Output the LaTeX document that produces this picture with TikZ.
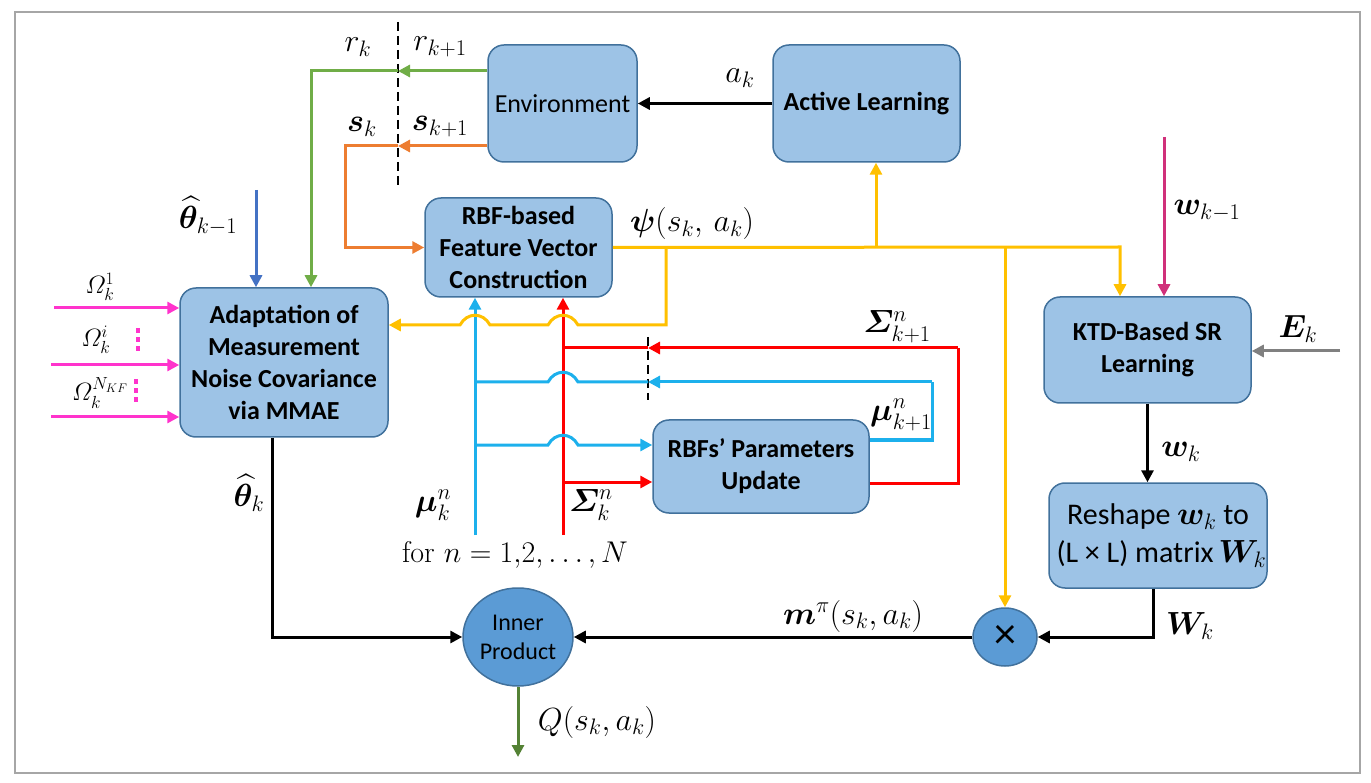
\documentclass[tikz,border=0pt]{standalone}
\usepackage{fix-cm}
\usepackage{amsmath,amssymb,bm}
\usepackage{fontspec}
\newfontfamily\carl{Carlito}
\usetikzlibrary{arrows.meta,shapes.geometric}
\definecolor{boxfill}{HTML}{9DC3E6}
\definecolor{boxline}{HTML}{41719C}
\definecolor{circfill}{HTML}{5B9BD5}
\definecolor{cgreen}{HTML}{70AD47}
\definecolor{corange}{HTML}{ED7D31}
\definecolor{cyellow}{HTML}{FFC000}
\definecolor{cblue}{HTML}{4472C4}
\definecolor{ccyan}{HTML}{1CB0EC}
\definecolor{cred}{HTML}{FF0000}
\definecolor{cpink}{HTML}{FF33CC}
\definecolor{cwine}{HTML}{D0307A}
\definecolor{cgray}{HTML}{808080}
\definecolor{cqgreen}{HTML}{548235}
\definecolor{cframe}{HTML}{A6A6A6}
\tikzset{
  box/.style={draw=boxline, fill=boxfill, line width=1.5pt, rounded corners=16pt, align=center, inner sep=0pt},
  bftext/.style={font=\carl\bfseries\fontsize{26}{32}\selectfont},
  nftext/.style={font=\carl\fontsize{26}{32}\selectfont},
  circ/.style={ellipse, draw=boxline, fill=circfill, line width=1.5pt, align=center, inner sep=0pt},
  ln/.style={line width=3pt},
  arr/.style={line width=3pt, -{Triangle[length=12pt,width=12pt]}},
  lbl/.style={font=\fontsize{32}{36}\selectfont, inner sep=0pt},
  slbl/.style={font=\fontsize{25}{28}\selectfont, inner sep=0pt},
  dsh/.style={line width=2.2pt, dash pattern=on 9pt off 5pt},
}
\begin{document}
\begin{tikzpicture}[x=1pt,y=-1pt]
\path[use as bounding box] (0,0) rectangle (1371,783);
\draw[cframe, line width=2pt] (15,12) rectangle (1360,773);

% boxes
\node[box,nftext,minimum width=149pt,minimum height=117pt] (env) at (562.5,103.5) {Environment};
\node[box,bftext,minimum width=187pt,minimum height=117pt] (al) at (866.5,103.5) {Active Learning};
\node[box,bftext,minimum width=187pt,minimum height=99pt] (rbf) at (518.5,247.5) {RBF-based\\Feature Vector\\Construction};
\node[box,bftext,minimum width=208pt,minimum height=149pt] (adapt) at (284,362.5) {Adaptation of\\Measurement\\Noise Covariance\\via MMAE};
\node[box,bftext,minimum width=207pt,minimum height=106pt] (ktd) at (1147.5,350) {KTD-Based SR\\Learning};
\node[box,font=\carl\fontsize{30}{38}\selectfont,minimum width=218pt,minimum height=105pt] (resh) at (1158,535.5) {Reshape {\fontsize{32}{36}\selectfont$\boldsymbol{w}_k$} to\\\ (L × L) matrix\,{\fontsize{32}{36}\selectfont$\boldsymbol{W}_k$}};
\node[box,bftext,minimum width=216pt,minimum height=93pt] (upd) at (761,466.5) {RBFs’ Parameters\\Update};
\node[circ,font=\carl\fontsize{24}{29}\selectfont,minimum width=110pt,minimum height=98pt] (ip) at (518,637) {Inner\\Product};
\node[circ,font=\carl\fontsize{44}{46}\selectfont,minimum width=64pt,minimum height=58pt] (mul) at (1005,637) {×};

% dashed separators
\coordinate (dtop) at (398,22);
\coordinate (dbot) at (398,185);
\draw[dsh] (dtop) -- (dbot);
\coordinate (d2top) at (648,337);
\coordinate (d2bot) at (648,400);
\draw[dsh] (d2top) -- (d2bot);

% a_k
\draw[arr] (al.west) -- (env.west -| env.east);

% green r
\coordinate (gdash) at (398,71);
\coordinate (gtop) at (311,71);
\draw[arr,cgreen] (gdash -| env.west) -- (gdash);
\draw[arr,cgreen] (gdash) -- (gtop) -- (gtop |- adapt.north);

% orange s
\coordinate (odash) at (398,146);
\coordinate (otop) at (345,146);
\draw[arr,corange] (odash -| env.west) -- (odash);
\draw[arr,corange] (odash) -- (otop) |- (rbf.west);

% theta_{k-1}
\coordinate (thin) at (256,190);
\draw[arr,cblue] (thin) -- (thin |- adapt.north);

% Omega inputs
\coordinate (om1) at (54,308);
\coordinate (om2) at (51,365);
\coordinate (om3) at (51,417);
\draw[arr,cpink] (om1) -- (om1 -| adapt.west);
\draw[arr,cpink] (om2) -- (om2 -| adapt.west);
\draw[arr,cpink] (om3) -- (om3 -| adapt.west);
\foreach \yy in {328,337,346} \fill[cpink] (135.5,\yy) rectangle (139.5,\yy+5);
\foreach \yy in {379,388,397} \fill[cpink] (133.5,\yy) rectangle (137.5,\yy+5);

% red and blue verticals
\coordinate (bbot) at (475,535);
\coordinate (rbot) at (563,535);
\draw[arr,ccyan] (bbot) -- (bbot |- rbf.south);
\draw[arr,cred] (rbot) -- (rbot |- rbf.south);

% yellow psi
\coordinate (ycorner) at (1120,247);
\coordinate (yal) at (876,247);
\coordinate (ymul) at (1005,247);
\coordinate (yd1) at (666,247);
\coordinate (yd2) at (666,325);
\draw[arr,cyellow] (rbf.east) -- (ycorner) -- (ycorner |- ktd.north);
\draw[arr,cyellow] (yal) -- (yal |- al.south);
\draw[arr,cyellow] (ymul) -- (mul.north);
\draw[arr,cyellow] (yd1) -- (yd2) -- (578,325) .. controls (571,312) and (555,312) .. (548,325) -- (490,325) .. controls (483,312) and (467,312) .. (460,325) -- (yd2 -| adapt.east);

% red feedback
\coordinate (rr1) at (958,483);
\coordinate (rr2) at (958,348);
\coordinate (rdash) at (648,348);
\coordinate (rjoin) at (563,348);
\coordinate (rin) at (563,482);
\draw[ln,cred] (rr1 -| upd.east) -- (rr1) -- (rr2);
\draw[arr,cred] (rr2) -- (rdash);
\draw[ln,cred] (rdash) -- (rjoin);
\draw[arr,cred] (rin) -- (rin -| upd.west);

% blue feedback
\coordinate (bb1) at (932,440);
\coordinate (bb2) at (932,382);
\coordinate (bdash) at (648,382);
\coordinate (bjoin) at (475,382);
\coordinate (bin) at (475,445);
\draw[ln,ccyan] (bb1 -| upd.east) -- (bb1) -- (bb2);
\draw[arr,ccyan] (bb2) -- (bdash);
\draw[ln,ccyan] (bdash) -- (578,382) .. controls (571,369) and (555,369) .. (548,382) -- (bjoin);
\draw[arr,ccyan] (bin) -- (548,445) .. controls (555,432) and (571,432) .. (578,445) -- (bin -| upd.west);

% theta_k to inner product
\coordinate (thk) at (272,637);
\draw[arr] (thk |- adapt.south) -- (thk) -- (ip.west);

% m^pi
\draw[arr] (mul.west) -- (ip.east);

% W_k
\coordinate (wk) at (1153,637);
\draw[arr] (wk |- resh.south) -- (wk) -- (mul.east);

% w_k
\draw[arr] (ktd.south) -- (ktd.south |- resh.north);

% w_{k-1}
\coordinate (wkm) at (1164,137);
\draw[arr,cwine] (wkm) -- (wkm |- ktd.north);

% E_k
\coordinate (ek) at (1340,351);
\draw[arr,cgray] (ek) -- (ek -| ktd.east);

% Q
\coordinate (qend) at (518,757);
\draw[arr,cqgreen] (ip.south) -- (qend);

% labels
\node[lbl] (lrk) at (358,47) {$r_k$};
\node[lbl] (lrk1) at (440,47) {$r_{k+1}$};
\node[lbl] (lsk) at (362,127) {$\boldsymbol{s}_k$};
\node[lbl] (lsk1) at (440,127) {$\boldsymbol{s}_{k+1}$};
\node[lbl] (lak) at (740,78) {$a_k$};
\node[lbl] (lth1) at (208,216) {$\widehat{\boldsymbol{\theta}}_{k-1}$};
\node[lbl] (lpsi) at (692,224) {$\boldsymbol{\psi}(s_k,\,a_k)$};
\node[slbl] (lo1) at (100,287) {$\varOmega_k^1$};
\node[slbl] (lo2) at (96,340) {$\varOmega_k^i$};
\node[slbl] (lo3) at (100,393) {$\varOmega_k^{N_{KF}}$};
\node[lbl] (lsig1) at (897,327) {$\boldsymbol{\varSigma}^n_{k+1}$};
\node[lbl] (lmu1) at (901,415) {$\boldsymbol{\mu}^n_{k+1}$};
\node[lbl] (lmu) at (433,505) {$\boldsymbol{\mu}^n_{k}$};
\node[lbl] (lsig) at (591,505) {$\boldsymbol{\varSigma}^n_{k}$};
\node[lbl,font=\fontsize{30}{34}\selectfont] (lfor) at (515,555) {for $n=1{,}2,\dots,N$};
\node[lbl] (lthk) at (249,493) {$\widehat{\boldsymbol{\theta}}_k$};
\node[lbl] (lm) at (853,616) {$\boldsymbol{m}^{\pi}(s_k,a_k)$};
\node[lbl] (lq) at (597,722) {$Q(s_k,a_k)$};
\node[lbl] (lwk1) at (1207,211) {$\boldsymbol{w}_{k-1}$};
\node[lbl] (lek) at (1298,329) {$\boldsymbol{E}_k$};
\node[lbl] (lwk) at (1181,452) {$\boldsymbol{w}_k$};
\node[lbl] (lWk) at (1190,626) {$\boldsymbol{W}_k$};
\end{tikzpicture}
\end{document}
